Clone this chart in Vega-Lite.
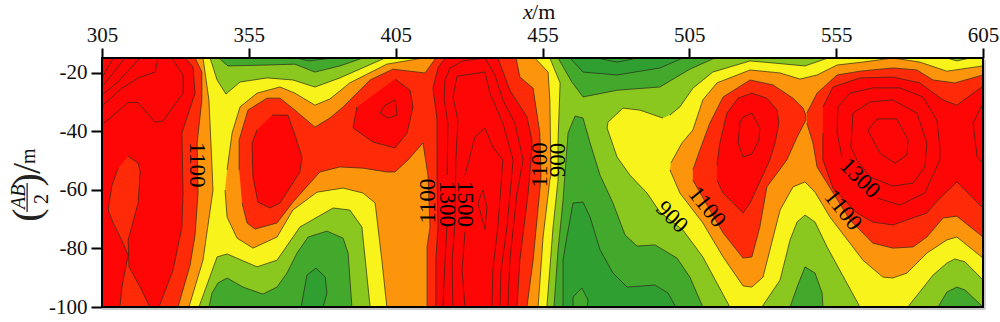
{"$schema":"https://vega.github.io/schema/vega-lite/v6.json","width":881,"height":249,"autosize":"none","padding":{"left":102,"top":58,"right":17,"bottom":15},"background":"white","view":{"stroke":null},
"datasets":{"poly":[
{"p":"base","b":"L","i":0,"x":305,"y":-15},{"p":"base","b":"L","i":1,"x":605,"y":-15},{"p":"base","b":"L","i":2,"x":605,"y":-100},{"p":"base","b":"L","i":3,"x":305,"y":-100},
{"p":"g2","b":"G","i":0,"x":344.8,"y":-15},{"p":"g2","b":"G","i":1,"x":347.9,"y":-17.7},{"p":"g2","b":"G","i":2,"x":361.2,"y":-17.4},{"p":"g2","b":"G","i":3,"x":370.7,"y":-17.1},{"p":"g2","b":"G","i":4,"x":377.5,"y":-19.8},{"p":"g2","b":"G","i":5,"x":386,"y":-17.7},{"p":"g2","b":"G","i":6,"x":393.9,"y":-15},
{"p":"d2","b":"D","i":0,"x":371.4,"y":-15},{"p":"d2","b":"D","i":1,"x":375.2,"y":-16},{"p":"d2","b":"D","i":2,"x":383.7,"y":-15},
{"p":"g1","b":"G","i":0,"x":341.4,"y":-100},{"p":"g1","b":"G","i":1,"x":342.5,"y":-95.2},{"p":"g1","b":"G","i":2,"x":344.5,"y":-91.8},{"p":"g1","b":"G","i":3,"x":347.6,"y":-90.1},{"p":"g1","b":"G","i":4,"x":353,"y":-93.2},{"p":"g1","b":"G","i":5,"x":359.8,"y":-95.6},{"p":"g1","b":"G","i":6,"x":364.6,"y":-93.2},{"p":"g1","b":"G","i":7,"x":368,"y":-88.4},{"p":"g1","b":"G","i":8,"x":371.4,"y":-81.6},{"p":"g1","b":"G","i":9,"x":375.2,"y":-76.1},{"p":"g1","b":"G","i":10,"x":381.6,"y":-74.1},{"p":"g1","b":"G","i":11,"x":387.1,"y":-76.5},{"p":"g1","b":"G","i":12,"x":388.8,"y":-81.6},{"p":"g1","b":"G","i":13,"x":390.1,"y":-100},
{"p":"d1","b":"D","i":0,"x":372.8,"y":-100},{"p":"d1","b":"D","i":1,"x":374.8,"y":-89.1},{"p":"d1","b":"D","i":2,"x":377.9,"y":-86.7},{"p":"d1","b":"D","i":3,"x":381,"y":-89.8},{"p":"d1","b":"D","i":4,"x":381.6,"y":-95.2},{"p":"d1","b":"D","i":5,"x":380.3,"y":-100},
{"p":"g3","b":"G","i":0,"x":460.3,"y":-15},{"p":"g3","b":"G","i":1,"x":465,"y":-23.2},{"p":"g3","b":"G","i":2,"x":468.8,"y":-28.3},{"p":"g3","b":"G","i":3,"x":480.4,"y":-26},{"p":"g3","b":"G","i":4,"x":495,"y":-24.9},{"p":"g3","b":"G","i":5,"x":505.2,"y":-18.8},{"p":"g3","b":"G","i":6,"x":513.7,"y":-15},
{"p":"d3","b":"D","i":0,"x":464.4,"y":-15},{"p":"d3","b":"D","i":1,"x":468.8,"y":-19.8},{"p":"d3","b":"D","i":2,"x":480.4,"y":-20.8},{"p":"d3","b":"D","i":3,"x":495,"y":-18.4},{"p":"d3","b":"D","i":4,"x":502.8,"y":-15},
{"p":"g4","b":"G","i":0,"x":458.9,"y":-100},{"p":"g4","b":"G","i":1,"x":460.3,"y":-80.5},{"p":"g4","b":"G","i":2,"x":462,"y":-63.5},{"p":"g4","b":"G","i":3,"x":463.7,"y":-40.6},{"p":"g4","b":"G","i":4,"x":466.1,"y":-34.8},{"p":"g4","b":"G","i":5,"x":468.8,"y":-35.5},{"p":"g4","b":"G","i":6,"x":471.2,"y":-44},{"p":"g4","b":"G","i":7,"x":474.6,"y":-55},{"p":"g4","b":"G","i":8,"x":479,"y":-64.5},{"p":"g4","b":"G","i":9,"x":483.1,"y":-75.4},{"p":"g4","b":"G","i":10,"x":487.2,"y":-79.2},{"p":"g4","b":"G","i":11,"x":493.3,"y":-78.8},{"p":"g4","b":"G","i":12,"x":500.8,"y":-83.3},{"p":"g4","b":"G","i":13,"x":505.2,"y":-89.8},{"p":"g4","b":"G","i":14,"x":509.6,"y":-100},
{"p":"d4","b":"D","i":0,"x":462,"y":-100},{"p":"d4","b":"D","i":1,"x":462,"y":-84},{"p":"d4","b":"D","i":2,"x":463.3,"y":-76.1},{"p":"d4","b":"D","i":3,"x":465.4,"y":-64.5},{"p":"d4","b":"D","i":4,"x":468.8,"y":-64.2},{"p":"d4","b":"D","i":5,"x":471.2,"y":-69.3},{"p":"d4","b":"D","i":6,"x":474.6,"y":-80.5},{"p":"d4","b":"D","i":7,"x":479,"y":-88.4},{"p":"d4","b":"D","i":8,"x":483.8,"y":-93.2},{"p":"d4","b":"D","i":9,"x":493.3,"y":-92.5},{"p":"d4","b":"D","i":10,"x":497.7,"y":-95.2},{"p":"d4","b":"D","i":11,"x":500.4,"y":-100},
{"p":"g7","b":"G","i":0,"x":465.4,"y":-100},{"p":"g7","b":"G","i":1,"x":465.4,"y":-96.6},{"p":"g7","b":"G","i":2,"x":468.4,"y":-93.5},{"p":"g7","b":"G","i":3,"x":470.5,"y":-97.6},{"p":"g7","b":"G","i":4,"x":470.2,"y":-100},
{"p":"g5","b":"G","i":0,"x":539.3,"y":-100},{"p":"g5","b":"G","i":1,"x":541.7,"y":-93.2},{"p":"g5","b":"G","i":2,"x":544.4,"y":-86.3},{"p":"g5","b":"G","i":3,"x":547.8,"y":-88.4},{"p":"g5","b":"G","i":4,"x":550.2,"y":-95.2},{"p":"g5","b":"G","i":5,"x":550.5,"y":-100},
{"p":"g6","b":"G","i":0,"x":589.7,"y":-100},{"p":"g6","b":"G","i":1,"x":592.7,"y":-94.9},{"p":"g6","b":"G","i":2,"x":596.1,"y":-93.2},{"p":"g6","b":"G","i":3,"x":598.9,"y":-94.2},{"p":"g6","b":"G","i":4,"x":605,"y":-100},
{"p":"y1","b":"Y","i":0,"x":305,"y":-15},{"p":"y1","b":"Y","i":1,"x":341.8,"y":-15},{"p":"y1","b":"Y","i":2,"x":344.2,"y":-22.5},{"p":"y1","b":"Y","i":3,"x":347.2,"y":-27.3},{"p":"y1","b":"Y","i":4,"x":352,"y":-23.2},{"p":"y1","b":"Y","i":5,"x":361.2,"y":-21.8},{"p":"y1","b":"Y","i":6,"x":370,"y":-22.5},{"p":"y1","b":"Y","i":7,"x":377.5,"y":-24.9},{"p":"y1","b":"Y","i":8,"x":386,"y":-21.8},{"p":"y1","b":"Y","i":9,"x":401.4,"y":-15},{"p":"y1","b":"Y","i":10,"x":457.5,"y":-15},{"p":"y1","b":"Y","i":11,"x":461,"y":-23.5},{"p":"y1","b":"Y","i":12,"x":460.3,"y":-43},{"p":"y1","b":"Y","i":13,"x":460.3,"y":-56.6},{"p":"y1","b":"Y","i":14,"x":458.6,"y":-72.7},{"p":"y1","b":"Y","i":15,"x":456.5,"y":-100},{"p":"y1","b":"Y","i":16,"x":396.3,"y":-100},{"p":"y1","b":"Y","i":17,"x":393.5,"y":-72.7},{"p":"y1","b":"Y","i":18,"x":389.4,"y":-66.9},{"p":"y1","b":"Y","i":19,"x":383.7,"y":-66.2},{"p":"y1","b":"Y","i":20,"x":372.4,"y":-72.7},{"p":"y1","b":"Y","i":21,"x":364.6,"y":-84},{"p":"y1","b":"Y","i":22,"x":357.8,"y":-86.3},{"p":"y1","b":"Y","i":23,"x":347.6,"y":-81.9},{"p":"y1","b":"Y","i":24,"x":344.2,"y":-82.9},{"p":"y1","b":"Y","i":25,"x":338,"y":-100},{"p":"y1","b":"Y","i":26,"x":305,"y":-100},
{"p":"y2","b":"Y","i":0,"x":498.4,"y":-34.5},{"p":"y2","b":"Y","i":1,"x":501.8,"y":-31.7},{"p":"y2","b":"Y","i":2,"x":506.2,"y":-25.3},{"p":"y2","b":"Y","i":3,"x":513,"y":-19.8},{"p":"y2","b":"Y","i":4,"x":525.7,"y":-16},{"p":"y2","b":"Y","i":5,"x":533.5,"y":-16.7},{"p":"y2","b":"Y","i":6,"x":544.4,"y":-17.7},{"p":"y2","b":"Y","i":7,"x":552.2,"y":-15},{"p":"y2","b":"Y","i":8,"x":605,"y":-15},{"p":"y2","b":"Y","i":9,"x":605,"y":-90.8},{"p":"y2","b":"Y","i":10,"x":598.9,"y":-84.6},{"p":"y2","b":"Y","i":11,"x":595.4,"y":-83.6},{"p":"y2","b":"Y","i":12,"x":592.7,"y":-85},{"p":"y2","b":"Y","i":13,"x":588,"y":-89.1},{"p":"y2","b":"Y","i":14,"x":579.4,"y":-100},{"p":"y2","b":"Y","i":15,"x":563.1,"y":-100},{"p":"y2","b":"Y","i":16,"x":551.9,"y":-79.5},{"p":"y2","b":"Y","i":17,"x":547.8,"y":-71},{"p":"y2","b":"Y","i":18,"x":544.4,"y":-68.6},{"p":"y2","b":"Y","i":19,"x":541.7,"y":-71},{"p":"y2","b":"Y","i":20,"x":539.3,"y":-77.1},{"p":"y2","b":"Y","i":21,"x":535.9,"y":-90.8},{"p":"y2","b":"Y","i":22,"x":529.7,"y":-100},{"p":"y2","b":"Y","i":23,"x":518.8,"y":-100},{"p":"y2","b":"Y","i":24,"x":509.6,"y":-82.9},{"p":"y2","b":"Y","i":25,"x":502.8,"y":-73.7},{"p":"y2","b":"Y","i":26,"x":495,"y":-67.6},{"p":"y2","b":"Y","i":27,"x":490.6,"y":-61.1},{"p":"y2","b":"Y","i":28,"x":484.8,"y":-55},{"p":"y2","b":"Y","i":29,"x":480.4,"y":-48.8},{"p":"y2","b":"Y","i":30,"x":477,"y":-38.9},{"p":"y2","b":"Y","i":31,"x":477.3,"y":-36.9},{"p":"y2","b":"Y","i":32,"x":482.4,"y":-32.1},{"p":"y2","b":"Y","i":33,"x":488.2,"y":-32.8},{"p":"y2","b":"Y","i":34,"x":496,"y":-35.5},
{"p":"s1","b":"L","i":0,"x":592.7,"y":-15},{"p":"s1","b":"L","i":1,"x":596.1,"y":-16},{"p":"s1","b":"L","i":2,"x":600.6,"y":-15},
{"p":"o1","b":"O","i":0,"x":305,"y":-15},{"p":"o1","b":"O","i":1,"x":339.4,"y":-15},{"p":"o1","b":"O","i":2,"x":341.4,"y":-29.3},{"p":"o1","b":"O","i":3,"x":342.1,"y":-44},{"p":"o1","b":"O","i":4,"x":342.8,"y":-60.1},{"p":"o1","b":"O","i":5,"x":339.4,"y":-84},{"p":"o1","b":"O","i":6,"x":334.6,"y":-100},{"p":"o1","b":"O","i":7,"x":305,"y":-100},
{"p":"o2","b":"O","i":0,"x":347.6,"y":-53.2},{"p":"o2","b":"O","i":1,"x":349.3,"y":-40.6},{"p":"o2","b":"O","i":2,"x":352,"y":-31.7},{"p":"o2","b":"O","i":3,"x":357.8,"y":-27},{"p":"o2","b":"O","i":4,"x":365.6,"y":-24.9},{"p":"o2","b":"O","i":5,"x":370.7,"y":-27},{"p":"o2","b":"O","i":6,"x":377.5,"y":-31.1},{"p":"o2","b":"O","i":7,"x":382.6,"y":-29},{"p":"o2","b":"O","i":8,"x":389.4,"y":-23.5},{"p":"o2","b":"O","i":9,"x":402,"y":-17.1},{"p":"o2","b":"O","i":10,"x":414.3,"y":-15},{"p":"o2","b":"O","i":11,"x":452.4,"y":-15},{"p":"o2","b":"O","i":12,"x":456.9,"y":-19.8},{"p":"o2","b":"O","i":13,"x":457.5,"y":-29.3},{"p":"o2","b":"O","i":14,"x":457.9,"y":-55},{"p":"o2","b":"O","i":15,"x":457.5,"y":-56.7},{"p":"o2","b":"O","i":16,"x":455.2,"y":-76.1},{"p":"o2","b":"O","i":17,"x":453.5,"y":-100},{"p":"o2","b":"O","i":18,"x":402,"y":-100},{"p":"o2","b":"O","i":19,"x":400.3,"y":-84},{"p":"o2","b":"O","i":20,"x":398,"y":-64.5},{"p":"o2","b":"O","i":21,"x":393.9,"y":-61.1},{"p":"o2","b":"O","i":22,"x":387.1,"y":-59.4},{"p":"o2","b":"O","i":23,"x":378.2,"y":-60.8},{"p":"o2","b":"O","i":24,"x":370,"y":-66.9},{"p":"o2","b":"O","i":25,"x":364.6,"y":-76.1},{"p":"o2","b":"O","i":26,"x":356.4,"y":-79.9},{"p":"o2","b":"O","i":27,"x":351,"y":-76.5},{"p":"o2","b":"O","i":28,"x":347.6,"y":-69.3},{"p":"o2","b":"O","i":29,"x":346.9,"y":-60.1},
{"p":"o3","b":"O","i":0,"x":498.7,"y":-50.9},{"p":"o3","b":"O","i":1,"x":502.5,"y":-44},{"p":"o3","b":"O","i":2,"x":506.2,"y":-39.6},{"p":"o3","b":"O","i":3,"x":509.6,"y":-29.3},{"p":"o3","b":"O","i":4,"x":514.4,"y":-23.5},{"p":"o3","b":"O","i":5,"x":525.7,"y":-19.1},{"p":"o3","b":"O","i":6,"x":535.9,"y":-20.1},{"p":"o3","b":"O","i":7,"x":542.7,"y":-22.2},{"p":"o3","b":"O","i":8,"x":548.5,"y":-20.8},{"p":"o3","b":"O","i":9,"x":555.3,"y":-17.4},{"p":"o3","b":"O","i":10,"x":564.1,"y":-16.4},{"p":"o3","b":"O","i":11,"x":574.3,"y":-15},{"p":"o3","b":"O","i":12,"x":583.5,"y":-16.4},{"p":"o3","b":"O","i":13,"x":592.7,"y":-19.5},{"p":"o3","b":"O","i":14,"x":605,"y":-17.7},{"p":"o3","b":"O","i":15,"x":605,"y":-83.3},{"p":"o3","b":"O","i":16,"x":596.1,"y":-76.1},{"p":"o3","b":"O","i":17,"x":592.7,"y":-77.1},{"p":"o3","b":"O","i":18,"x":585.9,"y":-81.6},{"p":"o3","b":"O","i":19,"x":579.1,"y":-88.4},{"p":"o3","b":"O","i":20,"x":574.3,"y":-90.1},{"p":"o3","b":"O","i":21,"x":570.9,"y":-89.8},{"p":"o3","b":"O","i":22,"x":564.1,"y":-84},{"p":"o3","b":"O","i":23,"x":552.9,"y":-69.3},{"p":"o3","b":"O","i":24,"x":547.8,"y":-60.8},{"p":"o3","b":"O","i":25,"x":544.4,"y":-57.3},{"p":"o3","b":"O","i":26,"x":540.3,"y":-59},{"p":"o3","b":"O","i":27,"x":535.9,"y":-66.9},{"p":"o3","b":"O","i":28,"x":530.1,"y":-89.8},{"p":"o3","b":"O","i":29,"x":526.3,"y":-93.2},{"p":"o3","b":"O","i":30,"x":523.3,"y":-92.8},{"p":"o3","b":"O","i":31,"x":516.5,"y":-82.9},{"p":"o3","b":"O","i":32,"x":509.6,"y":-71.3},{"p":"o3","b":"O","i":33,"x":501.8,"y":-61.1},{"p":"o3","b":"O","i":34,"x":498.4,"y":-53.2},
{"p":"r1","b":"E","i":0,"x":305,"y":-15},{"p":"r1","b":"E","i":1,"x":336.7,"y":-15},{"p":"r1","b":"E","i":2,"x":339,"y":-19.8},{"p":"r1","b":"E","i":3,"x":339,"y":-29.3},{"p":"r1","b":"E","i":4,"x":337.4,"y":-44},{"p":"r1","b":"E","i":5,"x":337.7,"y":-61.1},{"p":"r1","b":"E","i":6,"x":336.7,"y":-75.4},{"p":"r1","b":"E","i":7,"x":335,"y":-85.7},{"p":"r1","b":"E","i":8,"x":330.9,"y":-100},{"p":"r1","b":"E","i":9,"x":305,"y":-100},
{"p":"r2","b":"E","i":0,"x":351.7,"y":-53.2},{"p":"r2","b":"E","i":1,"x":351.7,"y":-43},{"p":"r2","b":"E","i":2,"x":354.7,"y":-32.8},{"p":"r2","b":"E","i":3,"x":361.2,"y":-28.7},{"p":"r2","b":"E","i":4,"x":365.6,"y":-28.7},{"p":"r2","b":"E","i":5,"x":370.7,"y":-32.8},{"p":"r2","b":"E","i":6,"x":377.5,"y":-38.6},{"p":"r2","b":"E","i":7,"x":382.6,"y":-35.5},{"p":"r2","b":"E","i":8,"x":387.1,"y":-31.7},{"p":"r2","b":"E","i":9,"x":396.3,"y":-22.5},{"p":"r2","b":"E","i":10,"x":404.1,"y":-18.8},{"p":"r2","b":"E","i":11,"x":415,"y":-20.1},{"p":"r2","b":"E","i":12,"x":418.7,"y":-15},{"p":"r2","b":"E","i":13,"x":446,"y":-15},{"p":"r2","b":"E","i":14,"x":447.3,"y":-21.5},{"p":"r2","b":"E","i":15,"x":451.8,"y":-25.3},{"p":"r2","b":"E","i":16,"x":454.1,"y":-40.6},{"p":"r2","b":"E","i":17,"x":454.5,"y":-55},{"p":"r2","b":"E","i":18,"x":454.1,"y":-60.1},{"p":"r2","b":"E","i":19,"x":451.8,"y":-84},{"p":"r2","b":"E","i":20,"x":449.7,"y":-100},{"p":"r2","b":"E","i":21,"x":415.7,"y":-100},{"p":"r2","b":"E","i":22,"x":415.7,"y":-79.5},{"p":"r2","b":"E","i":23,"x":416.7,"y":-72.7},{"p":"r2","b":"E","i":24,"x":416,"y":-55},{"p":"r2","b":"E","i":25,"x":414.3,"y":-44},{"p":"r2","b":"E","i":26,"x":409.2,"y":-49.8},{"p":"r2","b":"E","i":27,"x":404.8,"y":-53.9},{"p":"r2","b":"E","i":28,"x":402,"y":-53.9},{"p":"r2","b":"E","i":29,"x":393.9,"y":-52.6},{"p":"r2","b":"E","i":30,"x":386,"y":-52.2},{"p":"r2","b":"E","i":31,"x":379.2,"y":-53.9},{"p":"r2","b":"E","i":32,"x":370,"y":-64.2},{"p":"r2","b":"E","i":33,"x":364.6,"y":-71.3},{"p":"r2","b":"E","i":34,"x":357.1,"y":-73.4},{"p":"r2","b":"E","i":35,"x":354.4,"y":-71.3},{"p":"r2","b":"E","i":36,"x":352.7,"y":-64.5},
{"p":"l1","b":"E","i":0,"x":506.2,"y":-53.2},{"p":"l1","b":"E","i":1,"x":508.6,"y":-46.4},{"p":"l1","b":"E","i":2,"x":512,"y":-37.2},{"p":"l1","b":"E","i":3,"x":516.5,"y":-28.3},{"p":"l1","b":"E","i":4,"x":525.7,"y":-22.5},{"p":"l1","b":"E","i":5,"x":533.5,"y":-24.2},{"p":"l1","b":"E","i":6,"x":540.3,"y":-28.7},{"p":"l1","b":"E","i":7,"x":543.7,"y":-32.1},{"p":"l1","b":"E","i":8,"x":544.7,"y":-34.5},{"p":"l1","b":"E","i":9,"x":544.7,"y":-36.2},{"p":"l1","b":"E","i":10,"x":541.7,"y":-42},{"p":"l1","b":"E","i":11,"x":538.2,"y":-49.8},{"p":"l1","b":"E","i":12,"x":531.4,"y":-59},{"p":"l1","b":"E","i":13,"x":529,"y":-72.7},{"p":"l1","b":"E","i":14,"x":526.3,"y":-82.9},{"p":"l1","b":"E","i":15,"x":523.3,"y":-83.3},{"p":"l1","b":"E","i":16,"x":516.5,"y":-74.7},{"p":"l1","b":"E","i":17,"x":506.2,"y":-56.7},
{"p":"r4","b":"E","i":0,"x":545,"y":-33.8},{"p":"r4","b":"E","i":1,"x":548.5,"y":-27},{"p":"r4","b":"E","i":2,"x":555.3,"y":-20.8},{"p":"r4","b":"E","i":3,"x":563.1,"y":-19.5},{"p":"r4","b":"E","i":4,"x":574.3,"y":-18.4},{"p":"r4","b":"E","i":5,"x":582.5,"y":-19.1},{"p":"r4","b":"E","i":6,"x":588,"y":-22.5},{"p":"r4","b":"E","i":7,"x":595.4,"y":-23.5},{"p":"r4","b":"E","i":8,"x":605,"y":-20.8},{"p":"r4","b":"E","i":9,"x":605,"y":-76.1},{"p":"r4","b":"E","i":10,"x":596.1,"y":-69},{"p":"r4","b":"E","i":11,"x":591.4,"y":-69.6},{"p":"r4","b":"E","i":12,"x":585.9,"y":-76.1},{"p":"r4","b":"E","i":13,"x":581.2,"y":-79.5},{"p":"r4","b":"E","i":14,"x":574.3,"y":-79.9},{"p":"r4","b":"E","i":15,"x":567.5,"y":-78.2},{"p":"r4","b":"E","i":16,"x":559.7,"y":-70.3},{"p":"r4","b":"E","i":17,"x":548.5,"y":-52.2},{"p":"r4","b":"E","i":18,"x":547.1,"y":-44},{"p":"r4","b":"E","i":19,"x":545,"y":-37.2},
{"p":"rl","b":"R","i":0,"x":305,"y":-15},{"p":"rl","b":"R","i":1,"x":333.3,"y":-15},{"p":"rl","b":"R","i":2,"x":336,"y":-18.1},{"p":"rl","b":"R","i":3,"x":336.7,"y":-27},{"p":"rl","b":"R","i":4,"x":332.2,"y":-40.6},{"p":"rl","b":"R","i":5,"x":332.6,"y":-61.1},{"p":"rl","b":"R","i":6,"x":332.2,"y":-72.7},{"p":"rl","b":"R","i":7,"x":329.2,"y":-87.4},{"p":"rl","b":"R","i":8,"x":324.4,"y":-100},{"p":"rl","b":"R","i":9,"x":305,"y":-100},
{"p":"il","b":"E","i":0,"x":313.9,"y":-48.5},{"p":"il","b":"E","i":1,"x":317.3,"y":-50.9},{"p":"il","b":"E","i":2,"x":318,"y":-53.9},{"p":"il","b":"E","i":3,"x":317.3,"y":-64.5},{"p":"il","b":"E","i":4,"x":313.9,"y":-77.1},{"p":"il","b":"E","i":5,"x":314.2,"y":-86.3},{"p":"il","b":"E","i":6,"x":318,"y":-93.2},{"p":"il","b":"E","i":7,"x":321.3,"y":-100},{"p":"il","b":"E","i":8,"x":311.1,"y":-100},{"p":"il","b":"E","i":9,"x":311.8,"y":-93.2},{"p":"il","b":"E","i":10,"x":313.9,"y":-82.3},{"p":"il","b":"E","i":11,"x":312.2,"y":-78.2},{"p":"il","b":"E","i":12,"x":308.8,"y":-71.3},{"p":"il","b":"E","i":13,"x":307.1,"y":-66.9},{"p":"il","b":"E","i":14,"x":308.4,"y":-58.4},{"p":"il","b":"E","i":15,"x":310.5,"y":-52.6},
{"p":"rc1","b":"R","i":0,"x":362.9,"y":-34.5},{"p":"rc1","b":"R","i":1,"x":368.3,"y":-34.5},{"p":"rc1","b":"R","i":2,"x":370.7,"y":-41.3},{"p":"rc1","b":"R","i":3,"x":373.1,"y":-48.8},{"p":"rc1","b":"R","i":4,"x":372.4,"y":-53.9},{"p":"rc1","b":"R","i":5,"x":365.6,"y":-64.5},{"p":"rc1","b":"R","i":6,"x":362.2,"y":-66.2},{"p":"rc1","b":"R","i":7,"x":358.1,"y":-64.2},{"p":"rc1","b":"R","i":8,"x":356.4,"y":-55.6},{"p":"rc1","b":"R","i":9,"x":356.1,"y":-44},{"p":"rc1","b":"R","i":10,"x":357.8,"y":-39.6},
{"p":"rc2","b":"R","i":0,"x":404.8,"y":-22.2},{"p":"rc2","b":"R","i":1,"x":409.9,"y":-26},{"p":"rc2","b":"R","i":2,"x":410.9,"y":-31.7},{"p":"rc2","b":"R","i":3,"x":408.9,"y":-40.6},{"p":"rc2","b":"R","i":4,"x":404.8,"y":-45.7},{"p":"rc2","b":"R","i":5,"x":397.3,"y":-43.7},{"p":"rc2","b":"R","i":6,"x":390.5,"y":-38.9},{"p":"rc2","b":"R","i":7,"x":391.8,"y":-31.7},
{"p":"r5","b":"R","i":0,"x":421.8,"y":-15},{"p":"r5","b":"R","i":1,"x":419.4,"y":-18.4},{"p":"r5","b":"R","i":2,"x":417.7,"y":-25.3},{"p":"r5","b":"R","i":3,"x":419.1,"y":-36.2},{"p":"r5","b":"R","i":4,"x":419.1,"y":-55},{"p":"r5","b":"R","i":5,"x":419.4,"y":-72.7},{"p":"r5","b":"R","i":6,"x":418.7,"y":-84},{"p":"r5","b":"R","i":7,"x":418.7,"y":-100},{"p":"r5","b":"R","i":8,"x":446.3,"y":-100},{"p":"r5","b":"R","i":9,"x":447.3,"y":-84},{"p":"r5","b":"R","i":10,"x":450.1,"y":-61.1},{"p":"r5","b":"R","i":11,"x":451.1,"y":-49.8},{"p":"r5","b":"R","i":12,"x":451.4,"y":-43},{"p":"r5","b":"R","i":13,"x":449.7,"y":-35.1},{"p":"r5","b":"R","i":14,"x":443.9,"y":-26},{"p":"r5","b":"R","i":15,"x":439.8,"y":-15},
{"p":"l2","b":"R","i":0,"x":514.4,"y":-51.5},{"p":"l2","b":"R","i":1,"x":515.4,"y":-44},{"p":"l2","b":"R","i":2,"x":517.8,"y":-33.8},{"p":"l2","b":"R","i":3,"x":521.6,"y":-28.7},{"p":"l2","b":"R","i":4,"x":526.3,"y":-27},{"p":"l2","b":"R","i":5,"x":531.4,"y":-28.7},{"p":"l2","b":"R","i":6,"x":534.9,"y":-32.8},{"p":"l2","b":"R","i":7,"x":535.5,"y":-37.2},{"p":"l2","b":"R","i":8,"x":534.2,"y":-44},{"p":"l2","b":"R","i":9,"x":532.4,"y":-49.8},{"p":"l2","b":"R","i":10,"x":525.7,"y":-64.5},{"p":"l2","b":"R","i":11,"x":523.3,"y":-67.9},{"p":"l2","b":"R","i":12,"x":516.5,"y":-61.1},{"p":"l2","b":"R","i":13,"x":514.4,"y":-56.7},
{"p":"r6","b":"R","i":0,"x":550.5,"y":-31.7},{"p":"r6","b":"R","i":1,"x":553.9,"y":-24.9},{"p":"r6","b":"R","i":2,"x":563.1,"y":-21.8},{"p":"r6","b":"R","i":3,"x":574.3,"y":-21.5},{"p":"r6","b":"R","i":4,"x":583.5,"y":-23.5},{"p":"r6","b":"R","i":5,"x":591.4,"y":-29.3},{"p":"r6","b":"R","i":6,"x":596.1,"y":-31.1},{"p":"r6","b":"R","i":7,"x":605,"y":-24.6},{"p":"r6","b":"R","i":8,"x":605,"y":-66.2},{"p":"r6","b":"R","i":9,"x":596.1,"y":-57.3},{"p":"r6","b":"R","i":10,"x":589.7,"y":-63.5},{"p":"r6","b":"R","i":11,"x":585.9,"y":-67.9},{"p":"r6","b":"R","i":12,"x":574.3,"y":-72},{"p":"r6","b":"R","i":13,"x":567.5,"y":-71},{"p":"r6","b":"R","i":14,"x":562.1,"y":-67.9},{"p":"r6","b":"R","i":15,"x":553.9,"y":-59.4},{"p":"r6","b":"R","i":16,"x":550.5,"y":-49.8},{"p":"r6","b":"R","i":17,"x":550.5,"y":-40.6}
],
"lines":[
{"p":"c1","i":0,"x":305,"y":-37.9},{"p":"c1","i":1,"x":313.9,"y":-30.2},{"p":"c1","i":2,"x":317.3,"y":-30.2},{"p":"c1","i":3,"x":323.1,"y":-36.9},{"p":"c1","i":4,"x":325.8,"y":-36.5},{"p":"c1","i":5,"x":332.6,"y":-27},{"p":"c1","i":6,"x":332.6,"y":-20.8},{"p":"c1","i":7,"x":328.8,"y":-15},
{"p":"c2","i":0,"x":305,"y":-31.4},{"p":"c2","i":1,"x":311.8,"y":-25.3},{"p":"c2","i":2,"x":317.3,"y":-21.8},{"p":"c2","i":3,"x":323.1,"y":-19.8},{"p":"c2","i":4,"x":324.1,"y":-15},
{"p":"c3","i":0,"x":305,"y":-27.6},{"p":"c3","i":1,"x":310.1,"y":-23.5},{"p":"c3","i":2,"x":317.3,"y":-15.7},{"p":"c3","i":3,"x":318,"y":-15},
{"p":"c4","i":0,"x":305,"y":-24.9},{"p":"c4","i":1,"x":312.8,"y":-15},
{"p":"c5","i":0,"x":305,"y":-21.8},{"p":"c5","i":1,"x":308.8,"y":-15},
{"p":"t1","i":0,"x":473.6,"y":-15},{"p":"t1","i":1,"x":480.4,"y":-16.4},{"p":"t1","i":2,"x":487.5,"y":-15},
{"p":"la1","i":0,"x":421.1,"y":-100},{"p":"la1","i":1,"x":421.8,"y":-84},{"p":"la1","i":2,"x":422.5,"y":-72},
{"p":"la2","i":0,"x":422.5,"y":-55},{"p":"la2","i":1,"x":422.8,"y":-37.2},{"p":"la2","i":2,"x":421.5,"y":-29.3},{"p":"la2","i":3,"x":421.8,"y":-22.5},{"p":"la2","i":4,"x":423.5,"y":-18.4},{"p":"la2","i":5,"x":427.9,"y":-16},{"p":"la2","i":6,"x":435.4,"y":-15},{"p":"la2","i":7,"x":438.8,"y":-20.8},{"p":"la2","i":8,"x":441.5,"y":-29.3},{"p":"la2","i":9,"x":445.6,"y":-37.2},{"p":"la2","i":10,"x":448.4,"y":-49.8},{"p":"la2","i":11,"x":446.3,"y":-61.1},{"p":"la2","i":12,"x":443.9,"y":-84},{"p":"la2","i":13,"x":443.2,"y":-100},
{"p":"lb","i":0,"x":424.5,"y":-100},{"p":"lb","i":1,"x":424.2,"y":-84},{"p":"lb","i":2,"x":425.2,"y":-71.3},{"p":"lb","i":3,"x":425.5,"y":-49.8},{"p":"lb","i":4,"x":426.2,"y":-36.2},{"p":"lb","i":5,"x":424.5,"y":-28.3},{"p":"lb","i":6,"x":425.9,"y":-21.2},{"p":"lb","i":7,"x":435.4,"y":-19.8},{"p":"lb","i":8,"x":437.1,"y":-27},{"p":"lb","i":9,"x":441.5,"y":-37.2},{"p":"lb","i":10,"x":445,"y":-49.8},{"p":"lb","i":11,"x":442.9,"y":-72.7},{"p":"lb","i":12,"x":440.9,"y":-87.4},{"p":"lb","i":13,"x":440.5,"y":-100},
{"p":"lc1","i":0,"x":428.6,"y":-100},{"p":"lc1","i":1,"x":427.6,"y":-87.4},{"p":"lc1","i":2,"x":428.6,"y":-74.4},
{"p":"lc2","i":0,"x":428.6,"y":-55},{"p":"lc2","i":1,"x":432,"y":-42},{"p":"lc2","i":2,"x":435.4,"y":-38.9},{"p":"lc2","i":3,"x":438.1,"y":-45.4},{"p":"lc2","i":4,"x":441.5,"y":-49.8},{"p":"lc2","i":5,"x":439.8,"y":-72.7},{"p":"lc2","i":6,"x":438.1,"y":-87.4},{"p":"lc2","i":7,"x":437.8,"y":-100},
{"p":"ic","i":0,"x":434.7,"y":-60.1},{"p":"ic","i":1,"x":433,"y":-64.5},{"p":"ic","i":2,"x":435.4,"y":-73.4},{"p":"ic","i":3,"x":436.1,"y":-65.9},{"p":"ic","i":4,"x":434.7,"y":-60.1},
{"p":"i4","i":0,"x":404.8,"y":-29.3},{"p":"i4","i":1,"x":405.5,"y":-34.5},{"p":"i4","i":2,"x":402.4,"y":-35.5},{"p":"i4","i":3,"x":399.7,"y":-33.8},{"p":"i4","i":4,"x":401.4,"y":-31.1},{"p":"i4","i":5,"x":404.8,"y":-29.3},
{"p":"i5","i":0,"x":526.3,"y":-33.8},{"p":"i5","i":1,"x":529,"y":-38.9},{"p":"i5","i":2,"x":528.7,"y":-43},{"p":"i5","i":3,"x":526.3,"y":-47.8},{"p":"i5","i":4,"x":523.3,"y":-48.8},{"p":"i5","i":5,"x":521.6,"y":-44},{"p":"i5","i":6,"x":522.3,"y":-36.9},{"p":"i5","i":7,"x":523.3,"y":-35.2},{"p":"i5","i":8,"x":526.3,"y":-33.8},
{"p":"k1","i":0,"x":557,"y":-48.8},{"p":"k1","i":1,"x":555.3,"y":-40.6},{"p":"k1","i":2,"x":555.6,"y":-31.7},{"p":"k1","i":3,"x":559.7,"y":-27},{"p":"k1","i":4,"x":567.5,"y":-25.2},{"p":"k1","i":5,"x":576.7,"y":-25.2},{"p":"k1","i":6,"x":584.6,"y":-28.3},{"p":"k1","i":7,"x":589.3,"y":-36.2},{"p":"k1","i":8,"x":590.3,"y":-45.4},{"p":"k1","i":9,"x":590.3,"y":-49.8},{"p":"k1","i":10,"x":585.2,"y":-61.1},{"p":"k1","i":11,"x":576.7,"y":-65.2},{"p":"k1","i":12,"x":568.9,"y":-62.8},
{"p":"k2","i":0,"x":560.4,"y":-39.6},{"p":"k2","i":1,"x":560.7,"y":-33.8},{"p":"k2","i":2,"x":566.5,"y":-30},{"p":"k2","i":3,"x":574.3,"y":-29.3},{"p":"k2","i":4,"x":582.5,"y":-33.8},{"p":"k2","i":5,"x":585.9,"y":-44},{"p":"k2","i":6,"x":585.2,"y":-52.2},{"p":"k2","i":7,"x":581.2,"y":-57.7},{"p":"k2","i":8,"x":574.3,"y":-58.7},{"p":"k2","i":9,"x":566.5,"y":-55.6},{"p":"k2","i":10,"x":562.1,"y":-49.8},{"p":"k2","i":11,"x":560,"y":-45.4},{"p":"k2","i":12,"x":560.4,"y":-39.6},
{"p":"k3","i":0,"x":568.9,"y":-35.8},{"p":"k3","i":1,"x":575.7,"y":-35.8},{"p":"k3","i":2,"x":579.5,"y":-43},{"p":"k3","i":3,"x":579.1,"y":-48.1},{"p":"k3","i":4,"x":575,"y":-50.9},{"p":"k3","i":5,"x":569.9,"y":-47.5},{"p":"k3","i":6,"x":565.8,"y":-39.6},{"p":"k3","i":7,"x":568.9,"y":-35.8},
{"p":"k4","i":0,"x":605,"y":-30.4},{"p":"k4","i":1,"x":601.6,"y":-37.2},{"p":"k4","i":2,"x":603,"y":-48.8},{"p":"k4","i":3,"x":605,"y":-50.9}
]},
"encoding":{"x":{"field":"x","type":"quantitative","scale":{"domain":[305,605],"nice":false,"zero":false},"axis":{"orient":"top","values":[305,355,405,455,505,555,605],"title":null,"grid":false,"tickSize":10,"tickWidth":2,"tickColor":"#000","domainColor":"#000","domainWidth":2,"labelFont":"Liberation Serif","labelFontSize":21,"labelColor":"#111","labelPadding":3,"labelFlush":false,"labelOverlap":false}},
"y":{"field":"y","type":"quantitative","scale":{"domain":[-100,-15],"nice":false,"zero":false},"axis":{"orient":"left","values":[-100,-80,-60,-40,-20],"title":null,"grid":false,"tickSize":11,"tickWidth":2,"tickColor":"#000","domainColor":"#000","domainWidth":2,"labelFont":"Liberation Serif","labelFontSize":21,"labelColor":"#111","labelPadding":4,"labelFlush":false,"labelOverlap":false,"labelExpr":"'-' + abs(datum.value)"}}},
"layer":[
{"data":{"values":[{"x":305,"x2":605.7,"y":-100.7}]},"mark":{"type":"rule","stroke":"#c8c8c8","strokeWidth":2},"encoding":{"x2":{"field":"x2"}}},
{"data":{"values":[{"x":605.6,"y":-15.5,"y2":-100.7}]},"mark":{"type":"rule","stroke":"#c8c8c8","strokeWidth":2},"encoding":{"y2":{"field":"y2"}}},
{"data":{"name":"poly"},"mark":{"type":"line","stroke":"#2a2a1a","strokeWidth":0.7,"clip":true},"encoding":{"detail":{"field":"p"},"order":{"field":"i","type":"quantitative"},"fill":{"field":"b","type":"nominal","legend":null,"scale":{"domain":["L","G","D","Y","O","E","R"],"range":["#8ac820","#42a92d","#2f9f31","#f8f31a","#fd950c","#ff2a08","#ff0606"]}}}},
{"data":{"name":"lines"},"mark":{"type":"line","stroke":"#2a2a1a","strokeWidth":0.7,"clip":true},"encoding":{"detail":{"field":"p"},"order":{"field":"i","type":"quantitative"}}},
{"data":{"values":[{"t":"1100","x":337.4,"y":-51.5},{"t":"1300","x":422.5,"y":-64.8},{"t":"1500","x":428.6,"y":-64.8}]},"mark":{"type":"text","font":"Liberation Serif","fontSize":23,"angle":90,"color":"#000","baseline":"middle","align":"center"},"encoding":{"text":{"field":"t"}}},
{"data":{"values":[{"t":"1100","x":416,"y":-63.8},{"t":"1100","x":454.1,"y":-51.5},{"t":"900","x":460.3,"y":-49.8}]},"mark":{"type":"text","font":"Liberation Serif","fontSize":23,"angle":270,"color":"#000","baseline":"middle","align":"center"},"encoding":{"text":{"field":"t"}}},
{"data":{"values":[{"t":"900","x":499.1,"y":-69.3},{"t":"1300","x":563.1,"y":-56}]},"mark":{"type":"text","font":"Liberation Serif","fontSize":23,"angle":45,"color":"#000","baseline":"middle","align":"center"},"encoding":{"text":{"field":"t"}}},
{"data":{"values":[{"t":"1100","x":511,"y":-65.9},{"t":"1100","x":557.3,"y":-66.9}]},"mark":{"type":"text","font":"Liberation Serif","fontSize":23,"angle":51,"color":"#000","baseline":"middle","align":"center"},"encoding":{"text":{"field":"t"}}},
{"data":{"values":[{"t":"x","x":450,"y":0.7}]},"mark":{"type":"text","font":"Liberation Serif","fontSize":22,"fontStyle":"italic","color":"#111","baseline":"middle","align":"center"},"encoding":{"text":{"field":"t"}}},
{"data":{"values":[{"t":"/m","x":455.4,"y":0.7}]},"mark":{"type":"text","font":"Liberation Serif","fontSize":22,"color":"#111","baseline":"middle","align":"center"},"encoding":{"text":{"field":"t"}}},
{"data":{"values":[{"t":"m","x":280.2,"y":-48.5},{"t":"2","x":284.6,"y":-63.1}]},"mark":{"type":"text","font":"Liberation Serif","fontSize":20,"angle":270,"color":"#111","baseline":"middle","align":"center"},"encoding":{"text":{"field":"t"}}},
{"data":{"values":[{"t":"AB","x":276.7,"y":-62.4}]},"mark":{"type":"text","font":"Liberation Serif","fontSize":20,"fontStyle":"italic","angle":270,"color":"#111","baseline":"middle","align":"center"},"encoding":{"text":{"field":"t"}}},
{"data":{"values":[{"t":"/","x":279.8,"y":-52.7},{"t":")","x":279.8,"y":-56.6},{"t":"(","x":279.8,"y":-68.6}]},"mark":{"type":"text","font":"Liberation Serif","fontSize":40,"fontWeight":"normal","angle":270,"color":"#222","baseline":"middle","align":"center"},"encoding":{"text":{"field":"t"}}},
{"data":{"values":[{"x":279.5,"y":-57.7,"y2":-67.6}]},"mark":{"type":"rule","stroke":"#111","strokeWidth":1.2},"encoding":{"y2":{"field":"y2"}}},
{"data":{"values":[{"x":305,"x2":605,"y":-100,"y2":-15}]},"mark":{"type":"rect","fill":null,"stroke":"#000","strokeWidth":2},"encoding":{"x2":{"field":"x2"},"y2":{"field":"y2"}}}
]}
